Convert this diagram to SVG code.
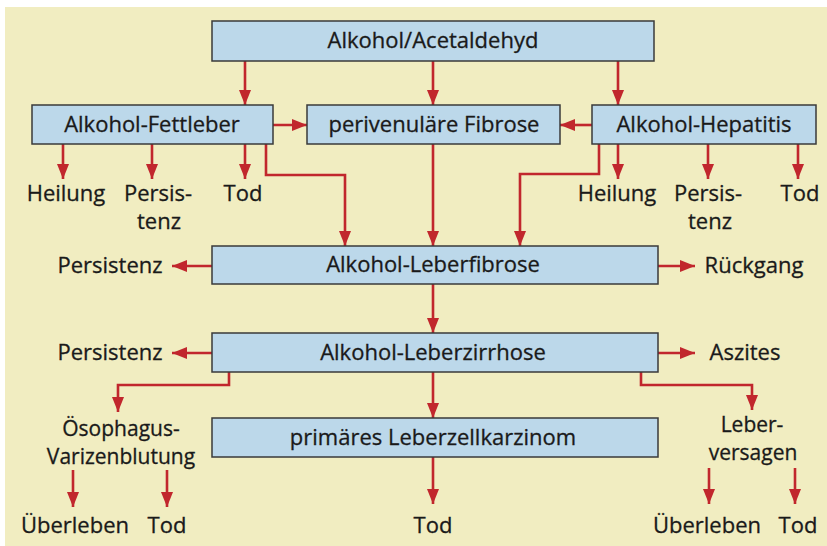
<svg xmlns="http://www.w3.org/2000/svg" width="827" height="546" viewBox="0 0 827 546">
<defs>
<marker id="ah" markerUnits="userSpaceOnUse" markerWidth="15" markerHeight="12" refX="15" refY="6" orient="auto">
<path d="M0,0 L15,6 L0,12 z" fill="#c1272d"/>
</marker>
<style>
.box{fill:#bcd8ea;stroke:#3a3a3a;stroke-width:1.5}
.t{font-family:"Open Sans","Liberation Sans",sans-serif;font-size:22px;fill:#1a1a1a;stroke:#1a1a1a;stroke-width:0.3;text-anchor:middle}
.s{font-size:21px}
.c{fill:none;stroke:#c1272d;stroke-width:2.6;marker-end:url(#ah)}
</style>
</defs>
<rect x="0" y="0" width="827" height="546" fill="#ffffff"/>
<rect x="5" y="7" width="822" height="539" fill="#f1edc1"/>

<g id="connectors">
<path class="c" d="M245,61 V105"/>
<path class="c" d="M433,61 V105"/>
<path class="c" d="M618,61 V105"/>
<path class="c" d="M273,125 H307"/>
<path class="c" d="M592,125 H560"/>
<path class="c" d="M63,144 V179"/>
<path class="c" d="M152,144 V179"/>
<path class="c" d="M245,144 V179"/>
<path class="c" d="M266,144 V175 H345 V246"/>
<path class="c" d="M433,144 V246"/>
<path class="c" d="M599,144 V174 H520 V246"/>
<path class="c" d="M618,144 V179"/>
<path class="c" d="M708,144 V179"/>
<path class="c" d="M798,144 V179"/>
<path class="c" d="M212,266 H172"/>
<path class="c" d="M658,266 H695"/>
<path class="c" d="M433,284 V333"/>
<path class="c" d="M212,353 H172"/>
<path class="c" d="M658,353 H695"/>
<path class="c" d="M433,372 V418"/>
<path class="c" d="M229,372 V385 H118 V412"/>
<path class="c" d="M641,372 V385 H752 V410"/>
<path class="c" d="M433,457 V504"/>
<path class="c" d="M73,470 V507"/>
<path class="c" d="M167,470 V507"/>
<path class="c" d="M709,468 V504"/>
<path class="c" d="M795,468 V504"/>
</g>

<g id="acetaldehyd"><rect class="box" x="212" y="21" width="442" height="40"/><text class="t" x="433" y="48">Alkohol/Acetaldehyd</text></g>
<g id="fettleber"><rect class="box" x="32" y="105" width="241" height="39"/><text class="t" x="152" y="132">Alkohol-Fettleber</text></g>
<g id="fibrose"><rect class="box" x="307" y="105" width="253" height="39"/><text class="t" x="434" y="132">perivenuläre Fibrose</text></g>
<g id="hepatitis"><rect class="box" x="592" y="105" width="224" height="39"/><text class="t" x="704" y="132">Alkohol-Hepatitis</text></g>
<g id="leberfibrose"><rect class="box" x="212" y="246" width="446" height="38"/><text class="t" x="433" y="272">Alkohol-Leberfibrose</text></g>
<g id="zirrhose"><rect class="box" x="212" y="333" width="446" height="39"/><text class="t" x="433" y="360">Alkohol-Leberzirrhose</text></g>
<g id="karzinom"><rect class="box" x="212" y="418" width="446" height="39"/><text class="t" x="433" y="445">primäres Leberzellkarzinom</text></g>

<g id="fl-heilung"><text class="t" x="66" y="201">Heilung</text></g>
<g id="fl-persistenz"><text class="t"><tspan x="158" y="201">Persis-</tspan><tspan x="159" y="229">tenz</tspan></text></g>
<g id="fl-tod"><text class="t" x="243" y="201">Tod</text></g>
<g id="ah-heilung"><text class="t" x="617" y="201">Heilung</text></g>
<g id="ah-persistenz"><text class="t"><tspan x="708" y="201">Persis-</tspan><tspan x="710" y="229">tenz</tspan></text></g>
<g id="ah-tod"><text class="t" x="800" y="201">Tod</text></g>
<g id="lf-persistenz"><text class="t" x="110" y="273">Persistenz</text></g>
<g id="lf-rueckgang"><text class="t" x="754" y="273">Rückgang</text></g>
<g id="lz-persistenz"><text class="t" x="110" y="360">Persistenz</text></g>
<g id="lz-aszites"><text class="t" x="745" y="360">Aszites</text></g>
<g id="oesophagus"><text class="t s"><tspan x="121" y="436">Ösophagus-</tspan><tspan x="121" y="464">Varizenblutung</tspan></text></g>
<g id="leberversagen"><text class="t s"><tspan x="752" y="432">Leber-</tspan><tspan x="753" y="460">versagen</tspan></text></g>
<g id="oe-ueberleben"><text class="t" x="75" y="533">Überleben</text></g>
<g id="oe-tod"><text class="t" x="167" y="533">Tod</text></g>
<g id="lk-tod"><text class="t" x="433" y="533">Tod</text></g>
<g id="lv-ueberleben"><text class="t" x="707" y="533">Überleben</text></g>
<g id="lv-tod"><text class="t" x="798" y="533">Tod</text></g>
</svg>
